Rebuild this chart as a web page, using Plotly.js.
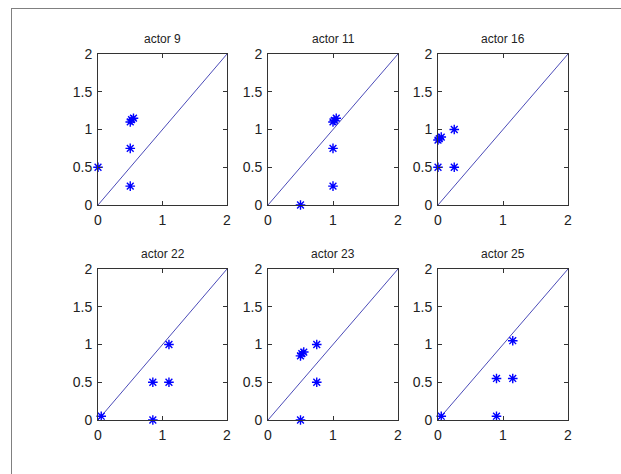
<!DOCTYPE html>
<html>
<head>
<meta charset="utf-8">
<script src="https://cdn.plot.ly/plotly-3.0.1.min.js"></script>
<style>
html,body{margin:0;padding:0;background:#fff;}
#wrap{position:relative;width:621px;height:474px;overflow:hidden;}
#frame{position:absolute;left:11px;top:8px;width:640px;height:500px;border-top:1px solid #808080;border-left:1px solid #808080;pointer-events:none;}
#chart{position:absolute;left:0;top:0;width:621px;height:474px;}
</style>
</head>
<body>
<div id="wrap"><div id="chart"></div><div id="frame"></div></div>
<script>
const titles = ["actor 9", "actor 11", "actor 16", "actor 22", "actor 23", "actor 25"];
const xs9  = [0, 0.5, 0.5, 0.5, 0.52, 0.55];
const ys9  = [0.5, 0.25, 0.75, 1.1, 1.13, 1.15];
const xs11 = [0.5, 1, 1, 1, 1.02, 1.05];
const ys11 = [0, 0.25, 0.75, 1.1, 1.12, 1.15];
const xs16 = [0, 0.25, 0.25, 0, 0.02, 0.05];
const ys16 = [0.5, 0.5, 1.0, 0.86, 0.88, 0.9];
const xs22 = [0.05, 0.85, 0.85, 1.1, 1.1];
const ys22 = [0.05, 0, 0.5, 0.5, 1.0];
const xs23 = [0.5, 0.75, 0.75, 0.5, 0.52, 0.55];
const ys23 = [0, 0.5, 1.0, 0.85, 0.88, 0.9];
const xs25 = [0.05, 0.9, 0.9, 1.15, 1.15];
const ys25 = [0.05, 0.05, 0.55, 0.55, 1.05];
const diagX = [0, 2];
const diagY = [0, 2];
const xTicks = [0, 1, 2];
const yTicks = [0, 0.5, 1, 1.5, 2];
const yTickText = ["0", "0.5", "1", "1.5", "2"];

const seriesX = [xs9, xs11, xs16, xs22, xs23, xs25];
const seriesY = [ys9, ys11, ys16, ys22, ys23, ys25];

const W = 621, H = 474;
const colsPx = [[98, 227], [268, 398], [438, 568]];
const rowsPx = [[54, 205], [269, 420]];

const data = [];
const layout = {
  width: W, height: H,
  margin: {l: 0, r: 0, t: 0, b: 0},
  paper_bgcolor: "#fff", plot_bgcolor: "#fff",
  showlegend: false,
  font: {family: "Liberation Sans, Arial, sans-serif", size: 14, color: "#222"},
  annotations: []
};

for (let i = 0; i < 6; i++) {
  const r = Math.floor(i / 3), c = i % 3;
  const n = i + 1;
  const xa = n === 1 ? "x" : "x" + n;
  const ya = n === 1 ? "y" : "y" + n;
  data.push({x: diagX, y: diagY, xaxis: xa, yaxis: ya, mode: "lines",
    line: {color: "#4b4bb8", width: 1}, hoverinfo: "skip"});
  data.push({x: seriesX[i], y: seriesY[i], xaxis: xa, yaxis: ya, mode: "markers",
    marker: {symbol: "asterisk-open", size: 8, color: "#0000ff", line: {color: "#0000ff", width: 1.4}},
    cliponaxis: false});
  const axCommon = {
    showgrid: false, zeroline: false, showline: true, linecolor: "#333", linewidth: 1,
    mirror: "ticks", ticks: "inside", ticklen: 4, tickcolor: "#333", tickwidth: 1,
    tickfont: {size: 14, color: "#222"}, automargin: false, fixedrange: true
  };
  layout["xaxis" + (n === 1 ? "" : n)] = Object.assign({}, axCommon, {
    domain: [colsPx[c][0] / W, colsPx[c][1] / W], range: [0, 2],
    tickvals: xTicks, ticktext: xTicks.map(String), anchor: ya, ticklabelstandoff: 2
  });
  layout["yaxis" + (n === 1 ? "" : n)] = Object.assign({}, axCommon, {
    domain: [1 - rowsPx[r][1] / H, 1 - rowsPx[r][0] / H], range: [0, 2],
    tickvals: yTicks, ticktext: yTickText, anchor: xa, ticklabelstandoff: 2
  });
  layout.annotations.push({
    text: titles[i], xref: "paper", yref: "paper",
    x: (colsPx[c][0] + colsPx[c][1]) / 2 / W,
    y: 1 - (rowsPx[r][0] - 6) / H,
    xanchor: "center", yanchor: "bottom", showarrow: false,
    font: {size: 12, color: "#222"}
  });
}

Plotly.newPlot("chart", data, layout, {displayModeBar: false, staticPlot: true});
</script>
</body>
</html>
